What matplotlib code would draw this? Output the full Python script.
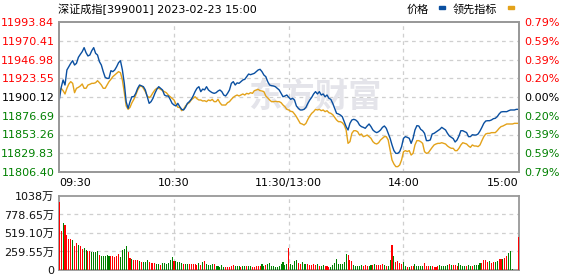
import matplotlib
matplotlib.use("Agg")
import matplotlib.pyplot as plt

plt.rcParams['font.family'] = ['DejaVu Sans', 'Noto Sans CJK SC']

# ---------------- data ----------------
title = "深证成指[399001] 2023-02-23 15:00"
prev_close = 11900.12
price_ticks = [11806.40, 11829.83, 11853.26, 11876.69, 11900.12,
               11923.55, 11946.98, 11970.41, 11993.84]
pct_labels = ["0.79%", "0.59%", "0.39%", "0.20%", "0.00%",
              "0.20%", "0.39%", "0.59%", "0.79%"]
time_ticks = [0, 60, 120, 180, 240]
time_labels = ["09:30", "10:30", "11:30/13:00", "14:00", "15:00"]
vol_ticks = [0, 259.55, 519.10, 778.65, 1038]
vol_labels = ["0", "259.55万", "519.10万", "778.65万", "1038万"]

minutes = list(range(0, 241))

price = [
    11896.4, 11912.0, 11921.4, 11915.1, 11933.9, 11938.0, 11942.2, 11945.5, 11940.1, 11942.2,
    11949.7, 11953.4, 11956.8, 11961.8, 11955.5, 11951.4, 11952.6, 11958.0, 11961.8, 11954.7,
    11952.6, 11944.3, 11940.1, 11931.8, 11924.7, 11923.4, 11923.4, 11933.0, 11931.8, 11933.9,
    11938.0, 11943.0, 11945.5, 11934.0, 11917.2, 11894.0, 11886.0, 11894.3, 11900.5, 11900.5,
    11904.7, 11911.0, 11915.1, 11914.0, 11913.0, 11908.9, 11900.5, 11892.2, 11894.3, 11898.5,
    11904.7, 11909.7, 11913.0, 11911.0, 11908.9, 11902.6, 11901.4, 11901.4, 11897.2, 11892.2,
    11890.1, 11888.9, 11892.2, 11888.0, 11884.7, 11883.9, 11887.2, 11892.2, 11894.3, 11897.2,
    11901.4, 11906.8, 11911.0, 11913.0, 11906.8, 11910.0, 11909.0, 11913.0, 11908.9, 11907.0,
    11905.5, 11904.7, 11905.5, 11907.6, 11908.9, 11906.8, 11902.6, 11901.4, 11904.7, 11908.9,
    11917.2, 11919.3, 11915.1, 11917.8, 11917.2, 11919.3, 11921.4, 11922.2, 11925.5, 11928.8,
    11928.0, 11928.8, 11929.7, 11931.8, 11933.9, 11934.7, 11931.8, 11927.6, 11925.5, 11919.3,
    11915.1, 11914.3, 11913.9, 11913.0, 11911.0, 11908.9, 11904.7, 11900.5, 11901.4, 11902.6,
    11899.7, 11897.2, 11898.5, 11896.4, 11888.9, 11886.0, 11883.9, 11883.9, 11884.7, 11887.2,
    11892.2, 11896.4, 11899.7, 11903.9, 11906.8, 11903.9, 11906.8, 11902.6, 11903.9, 11900.5,
    11902.6, 11898.5, 11897.2, 11892.2, 11886.0, 11879.7, 11878.9, 11877.6, 11875.5, 11869.3,
    11863.1, 11858.9, 11867.2, 11871.4, 11872.2, 11871.4, 11869.3, 11865.1, 11863.1, 11862.2,
    11861.0, 11863.9, 11866.4, 11863.1, 11858.9, 11856.8, 11855.6, 11856.8, 11858.9, 11862.2,
    11863.9, 11861.0, 11854.7, 11848.5, 11840.2, 11833.1, 11829.7, 11829.7, 11831.8, 11838.1,
    11848.5, 11850.6, 11849.7, 11848.5, 11842.2, 11848.5, 11858.9, 11864.3, 11863.9, 11859.7,
    11858.0, 11854.7, 11845.6, 11845.6, 11846.4, 11853.9, 11854.7, 11856.4, 11858.0, 11859.7,
    11862.2, 11860.5, 11858.9, 11854.7, 11851.4, 11849.7, 11848.1, 11843.9, 11846.4, 11851.4,
    11858.0, 11858.0, 11856.8, 11855.6, 11850.6, 11850.6, 11853.0, 11852.6, 11852.6, 11853.9,
    11857.6, 11862.2, 11867.2, 11870.1, 11870.5, 11870.5, 11871.4, 11873.0, 11873.5, 11875.5,
    11878.9, 11881.4, 11881.8, 11881.8, 11881.8, 11883.0, 11883.9, 11883.9, 11883.9, 11884.7,
    11884.7,
]

leading = [
    11906.8, 11911.0, 11908.0, 11903.9, 11911.0, 11916.4, 11919.3, 11917.2, 11905.5, 11911.0,
    11912.2, 11913.9, 11916.4, 11911.0, 11911.0, 11915.1, 11916.0, 11917.2, 11917.2, 11918.0,
    11920.5, 11918.0, 11915.1, 11911.0, 11911.0, 11915.1, 11919.3, 11922.2, 11925.5, 11927.6,
    11929.7, 11931.8, 11930.5, 11921.4, 11906.0, 11889.0, 11884.7, 11887.2, 11893.0, 11897.2,
    11902.6, 11908.9, 11913.0, 11913.9, 11911.0, 11906.8, 11901.4, 11899.3, 11901.4, 11905.5,
    11908.9, 11911.0, 11911.0, 11909.7, 11908.0, 11906.8, 11905.5, 11902.6, 11900.5, 11898.5,
    11896.4, 11891.4, 11887.2, 11887.2, 11883.0, 11884.7, 11888.9, 11891.4, 11893.0, 11896.4,
    11898.5, 11900.5, 11898.0, 11896.4, 11896.4, 11895.1, 11895.5, 11894.3, 11896.4, 11895.5,
    11897.2, 11894.3, 11894.3, 11897.2, 11893.0, 11890.1, 11890.1, 11890.1, 11893.0, 11894.3,
    11897.2, 11899.7, 11901.4, 11902.6, 11901.4, 11902.6, 11903.9, 11902.6, 11904.7, 11903.9,
    11905.5, 11904.7, 11908.0, 11908.9, 11909.7, 11908.0, 11907.6, 11906.8, 11901.4, 11899.0,
    11896.4, 11894.3, 11894.3, 11894.7, 11894.3, 11894.3, 11893.0, 11890.1, 11888.0, 11884.7,
    11883.9, 11882.2, 11881.8, 11878.9, 11875.5, 11871.4, 11867.2, 11866.4, 11865.1, 11867.2,
    11872.2, 11876.4, 11879.7, 11881.8, 11884.7, 11883.9, 11884.7, 11883.0, 11883.9, 11881.8,
    11883.0, 11880.5, 11879.7, 11878.0, 11874.7, 11871.4, 11869.3, 11869.3, 11868.0, 11865.1,
    11858.9, 11842.2, 11844.3, 11854.7, 11858.0, 11858.0, 11856.8, 11852.6, 11853.9, 11850.6,
    11851.4, 11852.6, 11850.6, 11848.5, 11844.3, 11842.2, 11841.4, 11843.0, 11846.4, 11848.5,
    11850.6, 11850.6, 11846.4, 11833.9, 11821.4, 11816.4, 11813.1, 11813.1, 11815.1, 11821.4,
    11831.8, 11833.1, 11832.0, 11833.1, 11827.6, 11829.7, 11840.2, 11845.6, 11845.6, 11844.3,
    11842.2, 11831.8, 11829.7, 11830.5, 11833.9, 11837.2, 11840.2, 11841.4, 11842.2, 11842.2,
    11843.0, 11842.2, 11841.4, 11838.9, 11837.2, 11836.0, 11836.0, 11833.1, 11833.1, 11836.0,
    11840.2, 11843.0, 11842.2, 11841.4, 11838.9, 11837.2, 11840.2, 11838.9, 11838.9, 11838.1,
    11840.2, 11845.6, 11850.6, 11853.9, 11854.7, 11854.7, 11855.6, 11855.6, 11855.6, 11858.0,
    11860.9, 11863.1, 11863.9, 11865.1, 11866.4, 11866.4, 11866.4, 11866.4, 11867.2, 11867.2,
    11867.2,
]

# volume in 万
volume = [
    958, 550, 662, 634, 493, 437, 437, 418, 343, 380, 352, 343, 296, 305, 282, 272, 272, 254, 254, 254,
    268, 211, 197, 197, 197, 211, 197, 197, 197, 183, 190,
    225, 183, 282, 296, 338, 254, 169, 155, 141, 141, 141, 127, 113, 113, 113, 141, 113, 99, 99,
    99, 85, 85, 75, 99, 99, 85, 99, 141, 183, 127, 120,
    113, 113, 99, 89, 85, 85, 85, 85, 85, 85, 70, 99, 70, 113, 127, 85, 70, 70, 85, 85,
    56, 56, 42, 70, 42, 42, 42, 42, 56, 70, 56,
    56, 56, 42, 56, 56, 56, 56, 56, 42, 42, 56, 56, 56, 85, 56, 70, 85, 99, 56, 56,
    42, 42, 56, 85, 113, 70, 85,
    310,
    85, 70, 127, 141, 99, 85, 113, 85, 85, 85, 70, 70, 85, 70, 85, 56, 56, 70, 56, 56,
    42, 42, 70, 99,
    155, 85, 85, 85, 113, 225, 211, 141, 127, 70, 56, 56, 56, 70, 56, 70, 56, 56, 70, 70,
    85, 70, 70,
    70, 85, 70, 56, 56, 141, 352, 197, 113, 127, 99, 85, 113, 56, 42, 42, 56, 56, 85, 56,
    56, 56, 56, 99, 56, 56,
    56, 56, 42, 42, 56, 70, 56, 56, 56, 70, 85, 70, 70, 70, 56, 99, 70, 56, 56, 56,
    70, 56, 56,
    70, 70, 70, 99, 99, 141, 141, 113, 127, 99, 113, 113, 127, 155, 155, 155, 169, 197, 239, 268,
    14, 0, 0, 465,
]
# R = up (red), G = down (green)
vol_dir = (
    "RRGRRRRGRRGRRGGRRGGGGRGGGGGRRRR"
    "RGGGGRRGRRRGRGGGRRRRGGRGGGGGGRG"
    "GGGRGGRRRRRGRGRGGGGRGGGGGRRRRRG"
    "GGRGGRGGRRRRRGGRGGGGGGGGGGG"
    "R"
    "GGGGRRGGGRRRRRGRGGRRRGGG"
    "GGGGGGRRRGGGGGRRRGGRGR"
    "RRRGRGGRGRRRRGGRGRRGGGGGRR"
    "RGRRRRGGGGGRGRRRGGGGRGG"
    "RGGGGRRRRGRRGGRRGRRGG"
    "GGGR"
)

# ---------------- style ----------------
blue = "#0a4fa0"
orange = "#e3a21a"
red = "#ff0000"
green = "#008000"
grid_c = "#cfcfcf"
frame_c = "#999999"

W, H = 578, 276
fig = plt.figure(figsize=(W / 100, H / 100), dpi=100)

L, R = 58.5, 519.0
ax = fig.add_axes([L / W, 1 - 172 / H, (R - L) / W, 150 / H])
axv = fig.add_axes([L / W, 1 - 270 / H, (R - L) / W, 74 / H])

xlo, xhi = -0.4, 240.4

# ---- main price panel ----
ax.set_xlim(xlo, xhi)
ax.set_ylim(price_ticks[0], price_ticks[-1])
for v in price_ticks[1:-1]:
    ax.axhline(v, color=grid_c, lw=0.9, ls=(0, (3, 3)), zorder=0)
for t in time_ticks[1:-1]:
    ax.axvline(t, color=grid_c, lw=0.9, ls=(0, (3, 3)), zorder=0)

ax.text(0.557, 0.49, "东方财富", transform=ax.transAxes, fontsize=24,
        fontweight="bold", color="#e4e4ea", ha="center", va="center",
        family=["Noto Sans CJK SC"], zorder=0)

ax.plot(minutes, leading, color=orange, lw=1.0, zorder=3)
ax.plot(minutes, price, color=blue, lw=1.0, zorder=4)

ax.set_yticks(price_ticks)
ax.set_yticklabels([f"{v:.2f}" for v in price_ticks])
for i, lab in enumerate(ax.get_yticklabels()):
    lab.set_color(green if i < 4 else ("black" if i == 4 else red))
ax.tick_params(axis="y", length=0, pad=3, labelsize=8)

ax.set_xticks(time_ticks)
ax.set_xticklabels(time_labels)
ax.tick_params(axis="x", length=0, pad=4, labelsize=8)
xl = ax.get_xticklabels()
xl[0].set_ha("left")
xl[-1].set_ha("right")

axr = ax.twinx()
axr.set_ylim(price_ticks[0], price_ticks[-1])
axr.set_yticks(price_ticks)
axr.set_yticklabels(pct_labels[::-1])
for i, lab in enumerate(axr.get_yticklabels()):
    lab.set_color(green if i < 4 else ("black" if i == 4 else red))
axr.tick_params(axis="y", length=0, pad=4, labelsize=8)

for a in (ax, axr):
    for s in a.spines.values():
        s.set_color(frame_c)
        s.set_linewidth(1.3)

# ---- volume panel ----
axv.set_xlim(xlo, xhi)
axv.set_ylim(0, vol_ticks[-1])
for v in vol_ticks[1:-1]:
    axv.axhline(v, color=grid_c, lw=0.9, ls=(0, (3, 3)), zorder=0)
for t in time_ticks[1:-1]:
    axv.axvline(t, color=grid_c, lw=0.9, ls=(0, (3, 3)), zorder=0)
colors = [red if c == "R" else green for c in vol_dir]
axv.bar(minutes, volume, width=0.55, color=colors, zorder=3, linewidth=0)
axv.set_yticks(vol_ticks)
axv.set_yticklabels(vol_labels)
axv.tick_params(axis="y", length=0, pad=3, labelsize=8, labelcolor="#111111")
axv.set_xticks([])
for s in axv.spines.values():
    s.set_color(frame_c)
    s.set_linewidth(1.3)

# ---- header ----
fig.text(58 / W, 1 - 9.5 / H, title, fontsize=8, ha="left", va="center")
fig.text(407 / W, 1 - 9.5 / H, "价格", fontsize=8, ha="left", va="center")
fig.text(453 / W, 1 - 9.5 / H, "领先指标", fontsize=8, ha="left", va="center")
fig.patches.append(plt.Rectangle((439 / W, 1 - 9 / H), 6 / W, 3 / H,
                                 transform=fig.transFigure, color=blue))
fig.patches.append(plt.Rectangle((508 / W, 1 - 9 / H), 6 / W, 3 / H,
                                 transform=fig.transFigure, color=orange))

fig.savefig("out.png", dpi=100)
